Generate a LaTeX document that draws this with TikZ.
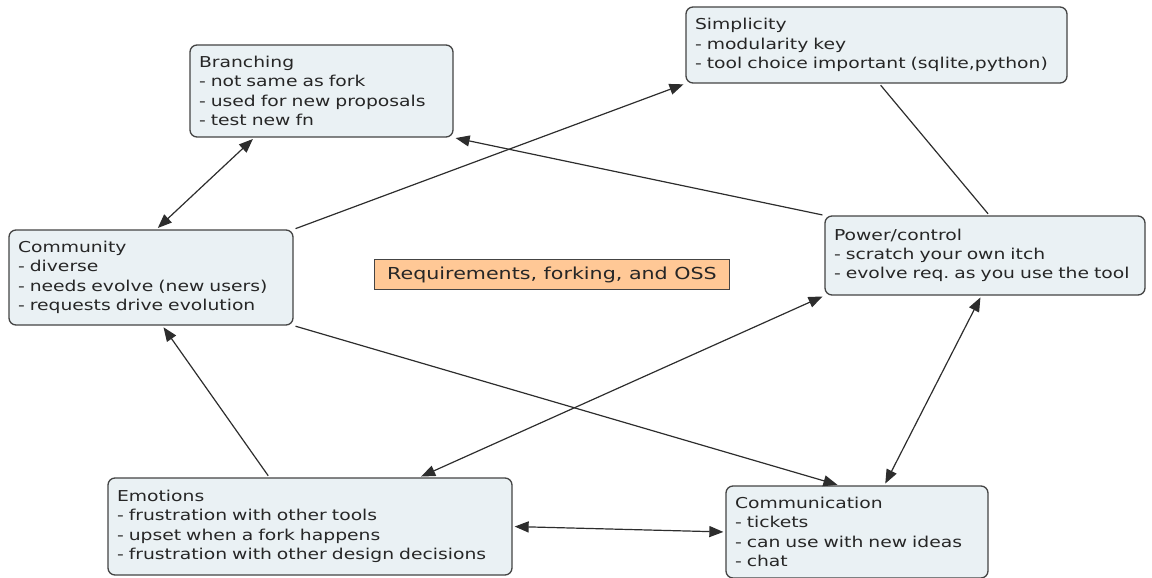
\documentclass[tikz,border=0pt]{standalone}
\usepackage{fontspec}
\setmainfont[FakeStretch=1.25]{DejaVu Sans}
\usetikzlibrary{arrows.meta}
\definecolor{boxfill}{RGB}{234,241,244}
\definecolor{boxline}{RGB}{68,68,68}
\definecolor{titlefill}{RGB}{255,200,150}
\definecolor{linkgray}{RGB}{45,45,45}
\frenchspacing
\begin{document}
\begin{tikzpicture}
        [x=1pt, y=-1pt, >={Triangle[length=14pt,width=11pt]},
        font=\fontsize{15}{19.3}\selectfont,
        topic/.style={rectangle,rounded corners=7pt,draw=boxline,fill=boxfill,line width=1.3pt,
          align=left,inner xsep=9pt,text=black!85,text width={#1-18pt},minimum height=80pt},
        title/.style={rectangle,draw=boxline,fill=titlefill,line width=1.2pt,inner xsep=6pt,
          text=black!85,minimum height=30pt,minimum width=355pt,font=\fontsize{16.5}{20}\selectfont},
        link/.style={draw=linkgray,line width=1.2pt,shorten >=2pt,shorten <=2pt}]
        \useasboundingbox (0,0) rectangle (1152,578);
        \node (branch) at (321.5,91) [topic=263pt, minimum height=92pt] {Branching\\- not same as fork\\- used for new proposals\\- test new fn};
        \node (simpl) at (876.5,45) [topic=381pt, minimum height=76pt] {Simplicity\\- modularity key\\- tool choice important (sqlite,python)};
        \node (commun) at (151,277.5) [topic=284pt, minimum height=95pt] {Community\\- diverse\\- needs evolve (new users)\\- requests drive evolution};
        \node (power) at (985,255.5) [topic=320pt, minimum height=79pt] {Power/control\\- scratch your own itch\\- evolve req. as you use the tool};
        \node (req) at (552,274.5) [title] {Requirements, forking, and OSS};
        \node (emot) at (310,526.5) [topic=404pt, minimum height=97pt] {Emotions\\- frustration with other tools\\- upset when a fork happens\\- frustration with other design decisions};
        \node (comm) at (857,532) [topic=262pt, minimum height=92pt] {Communication\\- tickets\\- can use with new ideas\\- chat};
        \draw [link,<->] ([xshift=65pt]branch.south west) -- ([xshift=148pt]commun.north west);
        \draw [link,->] (commun.north east) -- (simpl.south west);
        \draw [link,->] (power.north west) -- (branch.south east);
        \draw [link] ([xshift=194pt]simpl.south west) -- ([xshift=165pt]power.north west);
        \draw [link,<->] (power.south west) -- ([xshift=312pt]emot.north west);
        \draw [link,<->] ([xshift=157pt]power.south west) -- ([xshift=159pt]comm.north west);
        \draw [link,->] (commun.south east) -- ([xshift=114pt]comm.north west);
        \draw [link,->] ([xshift=162pt]emot.north west) -- ([xshift=154pt]commun.south west);
        \draw [link,<->] (emot.east) -- (comm.west);
      \end{tikzpicture}
\end{document}
